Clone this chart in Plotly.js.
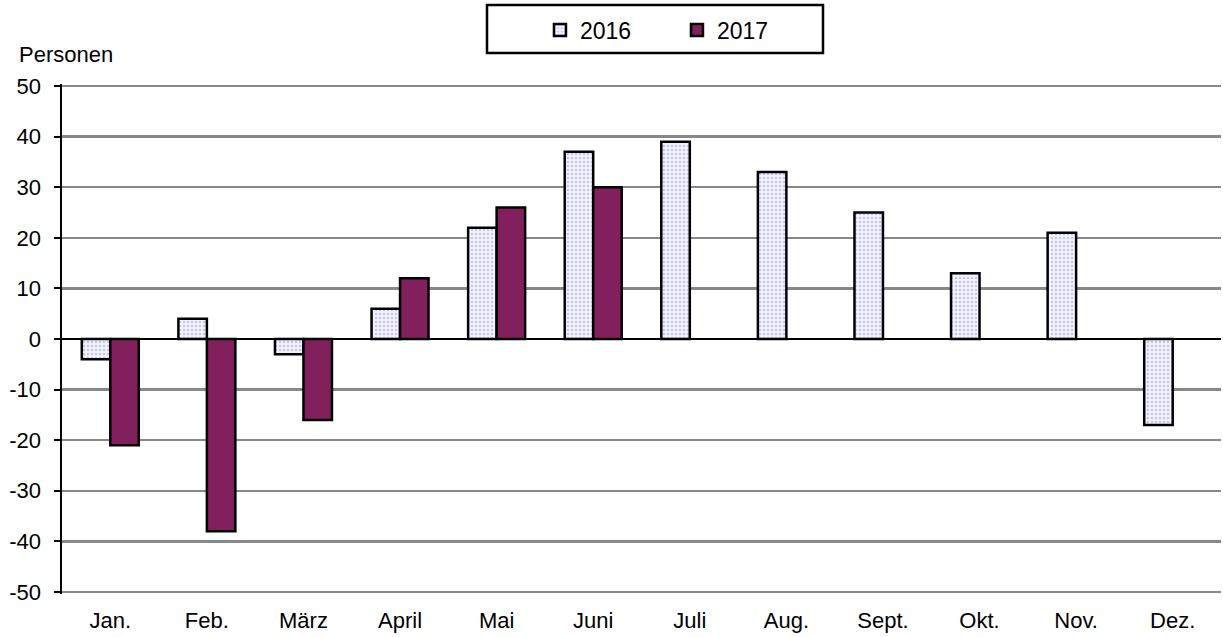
<!DOCTYPE html>
<html><head><meta charset="utf-8">
<script src="https://cdn.plot.ly/plotly-3.0.1.min.js"></script>
<style>body{margin:0;padding:0;background:#fff}#chart{width:1223px;height:637px}</style>
</head><body><div id="chart"></div>
<script>
const months = ["Jan.","Feb.","März","April","Mai","Juni","Juli","Aug.","Sept.","Okt.","Nov.","Dez."];
const values2016 = [-4, 4, -3, 6, 22, 37, 39, 33, 25, 13, 21, -17];
const values2017 = [-21, -38, -16, 12, 26, 30, null, null, null, null, null, null];
const yTicks = [-50,-40,-30,-20,-10,0,10,20,30,40,50];

const font = {family: "Liberation Sans, Arial, sans-serif", size: 22, color: "#000"};

const traces = [
  {type:"bar", name:"2016", x: months, y: values2016,
   marker:{color:"#e6e6fa", line:{color:"#000", width:2.5},
           pattern:{shape:".", fgcolor:"#c4c4ee", bgcolor:"#f3f3ff", size:4, solidity:0.3}}},
  {type:"bar", name:"2017", x: months, y: values2017,
   marker:{color:"#82205e", line:{color:"#000", width:2.5}}}
];

// plot area: 50 at y=86px, -50 at y=592px; range padded slightly so edge gridlines show
const layout = {
  width:1223, height:637,
  margin:{l:62, r:2, t:84, b:43},
  paper_bgcolor:"#fff", plot_bgcolor:"#fff",
  font: font,
  barmode:"group", bargap:0.41, bargroupgap:0,
  showlegend:true,
  legend:{orientation:"h", x:0.4124, xanchor:"left", y:1.1059, yanchor:"middle",
          borderwidth:0, bgcolor:"rgba(0,0,0,0)", font:{family:font.family, size:23, color:"#000"},
          entrywidth:92, itemwidth:30, traceorder:"normal"},
  xaxis:{type:"category", showgrid:false, showline:false, ticks:"", zeroline:false,
         tickfont:font, ticklabelstandoff:11, fixedrange:true},
  xaxis2:{overlaying:"x", anchor:"free", position:0.5, range:[-0.5,11.5],
          tickmode:"array", tickvals:[0.5,1.5,2.5,3.5,4.5,5.5,6.5,7.5,8.5,9.5,10.5,11.5],
          ticks:"outside", ticklen:6, tickwidth:2, tickcolor:"#000",
          showticklabels:false, showline:false, showgrid:false, zeroline:false},
  yaxis:{range:[-50.4,50.4], tickmode:"array", tickvals:yTicks, ticktext:yTicks.map(String),
         showgrid:true, gridcolor:"#888888", gridwidth:2.5,
         zeroline:true, zerolinecolor:"#000", zerolinewidth:2.5,
         showline:true, linecolor:"#000", linewidth:2.5,
         ticks:"outside", ticklen:6, tickwidth:2, tickcolor:"#000",
         tickfont:font, ticklabelstandoff:8, fixedrange:true},
  shapes:[{type:"rect", xref:"paper", yref:"paper", x0:0.3667, x1:0.6566, y0:1.0608, y1:1.1549,
           line:{color:"#000", width:2.5}, fillcolor:"rgba(0,0,0,0)"}],
  annotations:[{text:"Personen", xref:"paper", yref:"paper", x:-0.0388, y:1.0569,
                xanchor:"left", yanchor:"middle", showarrow:false, font:font}]
};
Plotly.newPlot("chart", traces, layout, {displayModeBar:false, staticPlot:true});
</script></body></html>
